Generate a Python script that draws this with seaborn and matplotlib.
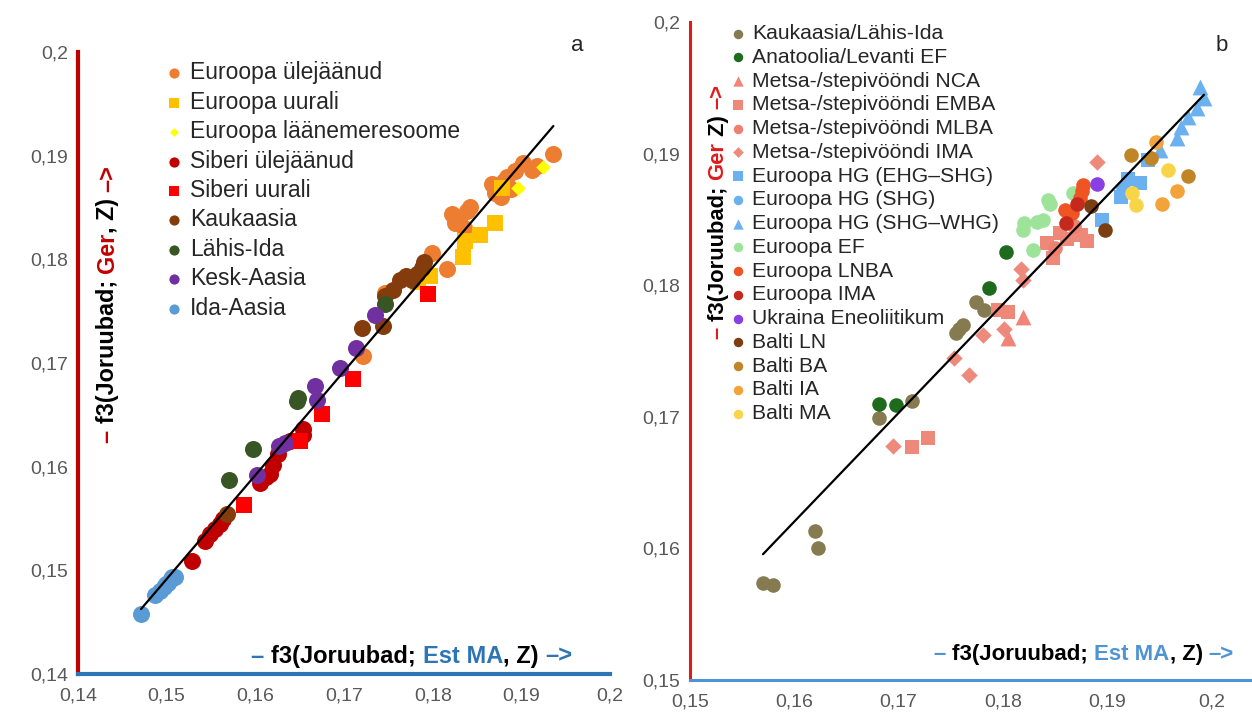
# f3 statistika hajuvusdiagrammid (a ja b paneel)
import numpy as np
import pandas as pd
import matplotlib
matplotlib.use("Agg")
import matplotlib.pyplot as plt
import seaborn as sns
from matplotlib.ticker import FuncFormatter, MultipleLocator

# ---------------- paneel a andmed ----------------
a_eur_ylej_x = [0.1721, 0.1746, 0.1799, 0.1816, 0.1822, 0.1825, 0.1830, 0.1835, 0.1839, 0.1842, 0.1867,
                0.1870, 0.1875, 0.1877, 0.1880, 0.1884, 0.1888, 0.1893, 0.1902, 0.1912, 0.1918, 0.1936]
a_eur_ylej_y = [0.1707, 0.1768, 0.1806, 0.1791, 0.1844, 0.1835, 0.1838, 0.1830, 0.1847, 0.1850, 0.1873,
                0.1864, 0.1870, 0.1860, 0.1876, 0.1879, 0.1868, 0.1885, 0.1893, 0.1886, 0.1890, 0.1902]
a_eur_uur_x = [0.1783, 0.1797, 0.1834, 0.1836, 0.1853, 0.1870, 0.1878]
a_eur_uur_y = [0.1778, 0.1784, 0.1802, 0.1818, 0.1823, 0.1835, 0.1869]
a_eur_lms_x = [0.1896, 0.1924]
a_eur_lms_y = [0.1869, 0.1889]
a_sib_ylej_x = [0.1529, 0.1543, 0.1549, 0.1554, 0.1560, 0.1563, 0.1605, 0.1612, 0.1616, 0.1620,
                0.1625, 0.1639, 0.1654, 0.1654]
a_sib_ylej_y = [0.1509, 0.1528, 0.1535, 0.1540, 0.1545, 0.1550, 0.1584, 0.1590, 0.1593, 0.1602,
                0.1612, 0.1625, 0.1631, 0.1636]
a_sib_uur_x = [0.1587, 0.1650, 0.1675, 0.1710, 0.1795]
a_sib_uur_y = [0.1563, 0.1625, 0.1651, 0.1685, 0.1767]
a_kauk_x = [0.1568, 0.1720, 0.1744, 0.1746, 0.1755, 0.1763, 0.1770, 0.1777, 0.1782, 0.1788, 0.1790]
a_kauk_y = [0.1554, 0.1734, 0.1736, 0.1765, 0.1770, 0.1780, 0.1784, 0.1780, 0.1786, 0.1792, 0.1797]
a_lahis_x = [0.1570, 0.1597, 0.1647, 0.1648, 0.1746]
a_lahis_y = [0.1587, 0.1617, 0.1663, 0.1666, 0.1757]
a_kesk_x = [0.1602, 0.1627, 0.1633, 0.1667, 0.1669, 0.1695, 0.1714, 0.1735]
a_kesk_y = [0.1592, 0.1620, 0.1623, 0.1678, 0.1664, 0.1695, 0.1714, 0.1746]
a_ida_x = [0.1471, 0.1487, 0.1492, 0.1497, 0.1499, 0.1502, 0.1505, 0.1506, 0.1509]
a_ida_y = [0.1458, 0.1476, 0.1480, 0.1484, 0.1487, 0.1488, 0.1492, 0.1494, 0.1494]

# nimi, x, y, värv, marker, suurus
groups_a = [
    ("Euroopa ülejäänud", a_eur_ylej_x, a_eur_ylej_y, "#ED7D31", "o", 150),
    ("Euroopa uurali", a_eur_uur_x, a_eur_uur_y, "#FFC000", "s", 135),
    ("Euroopa läänemeresoome", a_eur_lms_x, a_eur_lms_y, "#FFFF00", "D", 55),
    ("Siberi ülejäänud", a_sib_ylej_x, a_sib_ylej_y, "#C00000", "o", 150),
    ("Siberi uurali", a_sib_uur_x, a_sib_uur_y, "#FF0000", "s", 135),
    ("Kaukaasia", a_kauk_x, a_kauk_y, "#843C0C", "o", 150),
    ("Lähis-Ida", a_lahis_x, a_lahis_y, "#375623", "o", 150),
    ("Kesk-Aasia", a_kesk_x, a_kesk_y, "#7030A0", "o", 150),
    ("Ida-Aasia", a_ida_x, a_ida_y, "#5B9BD5", "o", 150),
]

# ---------------- paneel b andmed ----------------
b_kauk_x = [0.1570, 0.1580, 0.1620, 0.1623, 0.1681, 0.1713, 0.1755, 0.1758, 0.1762, 0.1774, 0.1782]
b_kauk_y = [0.1574, 0.1572, 0.1613, 0.1600, 0.1699, 0.1712, 0.1764, 0.1767, 0.1770, 0.1787, 0.1781]
b_anat_x = [0.1681, 0.1698, 0.1787, 0.1803]
b_anat_y = [0.1710, 0.1709, 0.1798, 0.1825]
b_nca_x = [0.1819, 0.1805]
b_nca_y = [0.1776, 0.1760]
b_emba_x = [0.1713, 0.1728, 0.1795, 0.1805, 0.1842, 0.1848, 0.1855, 0.1862, 0.1875, 0.1881]
b_emba_y = [0.1677, 0.1684, 0.1781, 0.1780, 0.1832, 0.1821, 0.1840, 0.1835, 0.1838, 0.1834]
b_mlba_x = [0.1850, 0.1868]
b_mlba_y = [0.1828, 0.1845]
b_ima_x = [0.1695, 0.1753, 0.1768, 0.1781, 0.1801, 0.1817, 0.1819, 0.1890]
b_ima_y = [0.1678, 0.1745, 0.1732, 0.1762, 0.1767, 0.1812, 0.1804, 0.1894]
b_ehg_x = [0.1895, 0.1913, 0.1920, 0.1932, 0.1939]
b_ehg_y = [0.1850, 0.1867, 0.1881, 0.1878, 0.1895]
b_shg_x = [0.1915]
b_shg_y = [0.1874]
b_whg_x = [0.1951, 0.1967, 0.1971, 0.1978, 0.1986, 0.1993, 0.1989]
b_whg_y = [0.1903, 0.1912, 0.1920, 0.1928, 0.1935, 0.1942, 0.1951]
b_ef_x = [0.1820, 0.1819, 0.1829, 0.1833, 0.1839, 0.1843, 0.1845, 0.1867]
b_ef_y = [0.1847, 0.1842, 0.1827, 0.1848, 0.1850, 0.1865, 0.1862, 0.1870]
b_lnba_x = [0.1860, 0.1866, 0.1874, 0.1876, 0.1877]
b_lnba_y = [0.1857, 0.1855, 0.1866, 0.1872, 0.1876]
b_eima_x = [0.1861, 0.1871]
b_eima_y = [0.1847, 0.1862]
b_ukr_x = [0.1890]
b_ukr_y = [0.1877]
b_ln_x = [0.1885, 0.1898]
b_ln_y = [0.1860, 0.1842]
b_ba_x = [0.1923, 0.1942, 0.1978]
b_ba_y = [0.1899, 0.1897, 0.1883]
b_ia_x = [0.1947, 0.1967, 0.1953]
b_ia_y = [0.1909, 0.1872, 0.1862]
b_ma_x = [0.1958, 0.1924, 0.1928]
b_ma_y = [0.1888, 0.1870, 0.1861]

groups_b = [
    ("Kaukaasia/Lähis-Ida", b_kauk_x, b_kauk_y, "#857A50", "o", 110),
    ("Anatoolia/Levanti EF", b_anat_x, b_anat_y, "#1E6B1E", "o", 110),
    ("Metsa-/stepivööndi NCA", b_nca_x, b_nca_y, "#F08577", "^", 130),
    ("Metsa-/stepivööndi EMBA", b_emba_x, b_emba_y, "#EE8878", "s", 100),
    ("Metsa-/stepivööndi MLBA", b_mlba_x, b_mlba_y, "#EE8070", "o", 110),
    ("Metsa-/stepivööndi IMA", b_ima_x, b_ima_y, "#EE8A7C", "D", 70),
    ("Euroopa HG (EHG–SHG)", b_ehg_x, b_ehg_y, "#6BB1F0", "s", 100),
    ("Euroopa HG (SHG)", b_shg_x, b_shg_y, "#6BB1F0", "o", 110),
    ("Euroopa HG (SHG–WHG)", b_whg_x, b_whg_y, "#6BB1F0", "^", 130),
    ("Euroopa EF", b_ef_x, b_ef_y, "#9DE39A", "o", 110),
    ("Euroopa LNBA", b_lnba_x, b_lnba_y, "#EF5423", "o", 110),
    ("Euroopa IMA", b_eima_x, b_eima_y, "#C5291E", "o", 110),
    ("Ukraina Eneoliitikum", b_ukr_x, b_ukr_y, "#8A3FE2", "o", 110),
    ("Balti LN", b_ln_x, b_ln_y, "#7A3E12", "o", 110),
    ("Balti BA", b_ba_x, b_ba_y, "#BF8526", "o", 110),
    ("Balti IA", b_ia_x, b_ia_y, "#F4A23A", "o", 110),
    ("Balti MA", b_ma_x, b_ma_y, "#F8D548", "o", 110),
]

sns.set_style("white")
plt.rcParams["font.family"] = ["Liberation Sans", "DejaVu Sans"]

fig = plt.figure(figsize=(12.52, 7.15), dpi=100)
ax_a = fig.add_axes([0.0623, 0.0573, 0.425, 0.870])
ax_b = fig.add_axes([0.5511, 0.049, 0.4489, 0.920])


def koma(v, _):
    return f"{v:.2f}".rstrip("0").replace(".", ",")


def joonista(ax, groups):
    frames = []
    for name, xs, ys, col, mk, s in groups:
        d = pd.DataFrame({"x": xs, "y": ys, "grupp": name})
        frames.append(d)
        sns.scatterplot(data=d, x="x", y="y", color=col, marker=mk, s=s,
                        linewidth=0, label=name, ax=ax, zorder=3)
    df = pd.concat(frames)
    sns.regplot(data=df, x="x", y="y", scatter=False, ci=None, truncate=True,
                color="black", line_kws={"lw": 1.6, "zorder": 4}, ax=ax)
    return df


def telg(ax, red, blue, lw, xlim, ylim):
    for s in ["top", "right"]:
        ax.spines[s].set_visible(False)
    ax.spines["left"].set_color(red)
    ax.spines["left"].set_linewidth(lw)
    ax.spines["bottom"].set_color(blue)
    ax.spines["bottom"].set_linewidth(lw)
    ax.set_xlim(*xlim)
    ax.set_ylim(*ylim)
    ax.xaxis.set_major_locator(MultipleLocator(0.01))
    ax.yaxis.set_major_locator(MultipleLocator(0.01))
    ax.xaxis.set_major_formatter(FuncFormatter(koma))
    ax.yaxis.set_major_formatter(FuncFormatter(koma))
    ax.tick_params(axis="x", direction="out", length=5, width=lw * 0.8, color=blue,
                   labelcolor="#595959", labelsize=14, pad=5)
    ax.tick_params(axis="y", direction="out", length=5, width=lw * 0.8, color=red,
                   labelcolor="#595959", labelsize=14, pad=2)
    ax.set_xlabel("")
    ax.set_ylabel("")


def vikerkaar(ax, x, y, tykid, vertikaalne=False, size=15):
    kw = dict(fontsize=size, fontweight="bold")
    if vertikaalne:
        t = ax.text(x, y, tykid[0][0], color=tykid[0][1], transform=ax.transAxes,
                    rotation=90, ha="center", va="bottom", **kw)
        for s, c in tykid[1:]:
            t = ax.annotate(s, xycoords=t, xy=(0.5, 1), ha="center", va="bottom",
                            rotation=90, color=c, **kw)
    else:
        t = ax.text(x, y, tykid[0][0], color=tykid[0][1], transform=ax.transAxes,
                    ha="left", va="bottom", **kw)
        for s, c in tykid[1:]:
            t = ax.annotate(s, xycoords=t, xy=(1, 0), ha="left", va="bottom",
                            color=c, **kw)


# paneel a
joonista(ax_a, groups_a)
telg(ax_a, "#C00000", "#2E75B6", 3.0, (0.14, 0.2), (0.14, 0.2))
ax_a.legend(loc="upper left", bbox_to_anchor=(0.165, 0.985), frameon=False, fontsize=16.5,
            markerscale=0.6, handlelength=0.75, handletextpad=0.3, labelspacing=0.28,
            borderaxespad=0, borderpad=0)
vikerkaar(ax_a, 0.056, 0.372, [("– ", "#C00000"), ("f3(Joruubad; ", "black"), ("Ger", "#C00000"),
                              (", Z) ", "black"), ("–>", "#C00000")], vertikaalne=True, size=16.8)
vikerkaar(ax_a, 0.326, 0.01, [("– ", "#2E75B6"), ("f3(Joruubad; ", "black"), ("Est MA", "#2E75B6"),
                             (", Z) ", "black"), ("–>", "#2E75B6")], size=17)
ax_a.text(0.938, 1.011, "a", transform=ax_a.transAxes, fontsize=16, ha="center", va="center")

# paneel b
joonista(ax_b, groups_b)
telg(ax_b, "#E01B1B", "#4F93D3", 2.2, (0.15, 0.2039), (0.15, 0.2))
ax_b.legend(loc="upper left", bbox_to_anchor=(0.071, 0.997), frameon=False, fontsize=15.2,
            markerscale=0.65, handlelength=0.75, handletextpad=0.3, labelspacing=0.225,
            borderaxespad=0, borderpad=0)
vikerkaar(ax_b, 0.05, 0.518, [("– ", "#E01B1B"), ("f3(Joruubad; ", "black"), ("Ger", "#E01B1B"),
                             (" Z) ", "black"), ("–>", "#E01B1B")], vertikaalne=True, size=15.8)
vikerkaar(ax_b, 0.434, 0.022, [("– ", "#4F93D3"), ("f3(Joruubad; ", "black"), ("Est MA", "#4F93D3"),
                              (", Z) ", "black"), ("–>", "#4F93D3")], size=16)
ax_b.text(0.947, 0.965, "b", transform=ax_b.transAxes, fontsize=16, ha="center", va="center")

fig.savefig("out.png", dpi=100)
